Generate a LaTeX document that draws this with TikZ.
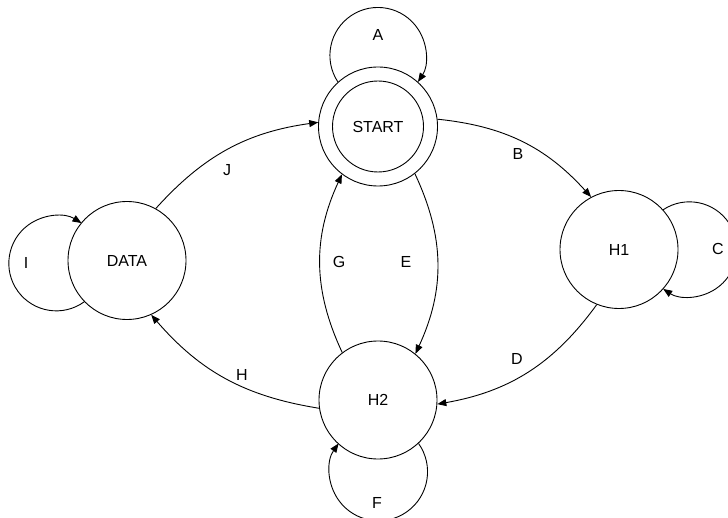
\documentclass[tikz,border=0pt]{standalone}
\usepackage{fontspec}
\setmainfont{Liberation Sans}
\usetikzlibrary{arrows.meta}
\begin{document}
\begin{tikzpicture}[x=1pt,y=1pt,
  state/.style={circle,draw,line width=0.9pt,inner sep=0pt,minimum size=118pt,font=\fontsize{16}{18}\selectfont},
  lbl/.style={inner sep=0pt,font=\fontsize{16}{18}\selectfont},
  trans/.style={line width=0.9pt,-{Triangle[length=9pt,width=7pt]}}]
  % canvas
  \fill[white] (0,0) rectangle (728,517);
  \useasboundingbox (0,0) rectangle (728,517);

  % states
  \node[state,minimum size=119pt] (start) at (378,390.5) {};
  \node[state,minimum size=91pt] (startin) at (378,390.5) {START};
  \node[state] (data) at (127,256.5) {DATA};
  \node[state] (h1) at (619,267.5) {H1};
  \node[state] (h2) at (378,117) {H2};

  % transitions between states
  \draw[trans] (data.61) to[bend left=20] (start.176.4);
  \draw[trans] (start.7.2) to[bend left=21] (h1.118);
  \draw[trans] (h1.248) to[bend left=22] (h2.-4);
  \draw[trans] (h2.188) to[bend left=20] (data.-66);
  \draw[trans] (start.-52) to[bend left=25] (h2.51);
  \draw[trans] (h2.127) to[bend left=25] (start.233.4);

  % self loops
  \draw[trans] (start.132.3) arc[start angle=213.5, end angle=-33.5, radius=48];
  \draw[trans] (data.224) arc[start angle=306, end angle=58, radius=47.5];
  \draw[trans] (h1.42.2) arc[start angle=123.5, end angle=-123.5, radius=47.5];
  \draw[trans] (h2.-47.3) arc[start angle=35.3, end angle=-215.3, radius=49];

  % transition labels
  \node[lbl] (lA) at (378,482) {A};
  \node[lbl] (lB) at (518,363) {B};
  \node[lbl] (lC) at (718,268) {C};
  \node[lbl] (lD) at (517,158) {D};
  \node[lbl] (lE) at (406,255) {E};
  \node[lbl] (lF) at (377,14) {F};
  \node[lbl] (lG) at (339,255) {G};
  \node[lbl] (lH) at (242,142) {H};
  \node[lbl] (lI) at (26,254) {I};
  \node[lbl] (lJ) at (227,347) {J};
\end{tikzpicture}
\end{document}
